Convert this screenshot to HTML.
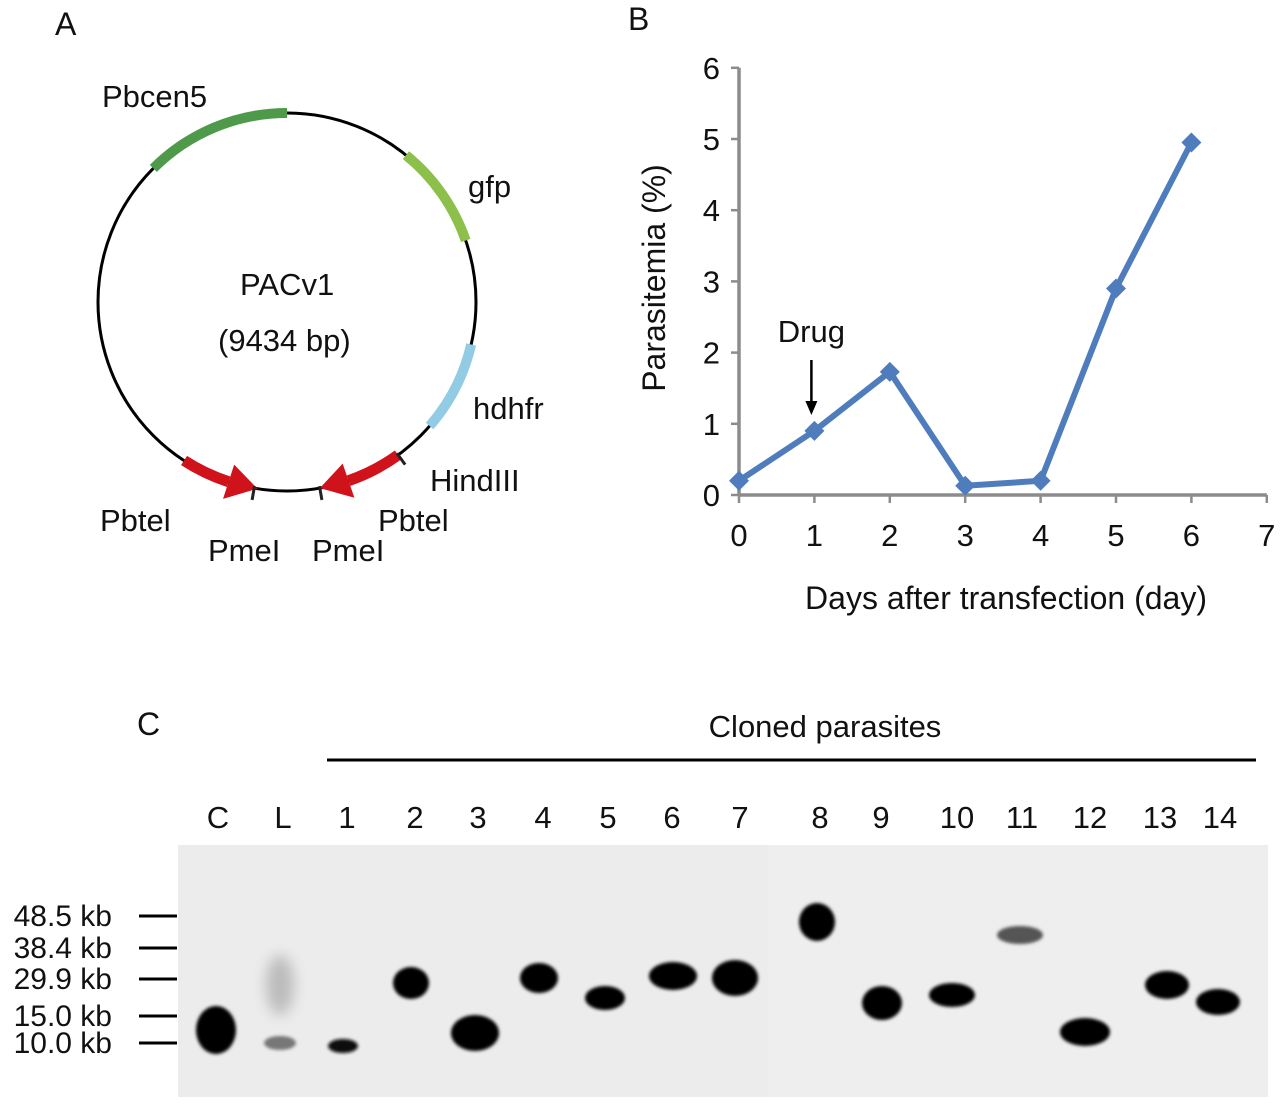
<!DOCTYPE html>
<html><head><meta charset="utf-8"><style>
body{margin:0;background:#fff;width:1280px;height:1100px;overflow:hidden;font-family:"Liberation Sans",Arial,sans-serif}
svg text{font-family:"Liberation Sans",Arial,sans-serif;fill:#111}
</style></head><body>
<svg id="fig" width="1280" height="1100" viewBox="0 0 1280 1100">
<defs>
<filter id="blur" x="-50%" y="-50%" width="200%" height="200%"><feGaussianBlur stdDeviation="1.6"/></filter>
<filter id="blur2" x="-50%" y="-50%" width="200%" height="200%"><feGaussianBlur stdDeviation="7"/></filter>
</defs>
<text x="55" y="35" font-size="32">A</text>
<text x="628" y="30" font-size="32">B</text>
<text x="137" y="735" font-size="32">C</text>
<g id="plasmid"></g>
<g id="chart"></g>
<g id="gel"></g>
</svg>
<script>
const NS='http://www.w3.org/2000/svg';
function mk(tag,attrs,parent,txt){const e=document.createElementNS(NS,tag);for(const k in attrs)e.setAttribute(k,attrs[k]);if(txt!==undefined)e.textContent=txt;parent.appendChild(e);return e;}

// ---------- Panel A plasmid ----------
const P=document.getElementById('plasmid');
const cx=287,cy=302,R=189;
function pt(a,r){const t=a*Math.PI/180;return [cx+(r||R)*Math.sin(t),cy-(r||R)*Math.cos(t)];}
function arc(a1,a2,r){const p1=pt(a1,r),p2=pt(a2,r);const large=Math.abs(a2-a1)>180?1:0;const sw=a2>a1?1:0;return `M${p1[0]},${p1[1]} A${r||R},${r||R} 0 ${large} ${sw} ${p2[0]},${p2[1]}`;}
let c=mk('circle',{cx:cx,cy:cy,r:R,fill:'none',stroke:'#000','stroke-width':3},P);

const segs=[['pbcen5-segment',-45,0,'#4f9a4a'],['gfp-segment',39,71,'#8cc04a'],['hdhfr-segment',103,131,'#92cbe4']];
segs.forEach(s=>{const e=mk('path',{d:arc(s[1],s[2]),fill:'none',stroke:s[3],'stroke-width':10},P);});
function arrow(a1,a2,name){const g=mk('g',{},P);
 const dir=a2>a1?1:-1;const ab=a2-dir*9;
 mk('path',{d:arc(a1,ab),fill:'none',stroke:'#d0121b','stroke-width':11},g);
 const t=pt(a2),b1=pt(ab,R-18),b2=pt(ab,R+18);
 mk('polygon',{points:`${t[0]},${t[1]} ${b1[0]},${b1[1]} ${b2[0]},${b2[1]}`,fill:'#d0121b'},g);}
arrow(144,170,'pbtel-arrow-right');arrow(213,189,'pbtel-arrow-left');
[[144,'hindiii-site'],[170,'pmei-site-right'],[190,'pmei-site-left']].forEach(s=>{const a=pt(s[0],R-2),b=pt(s[0],R+12);const e=mk('line',{x1:a[0],y1:a[1],x2:b[0],y2:b[1],stroke:'#222','stroke-width':3},P);});
const labsA=[['Pbcen5',102,107,'label-pbcen5'],['gfp',468,197,'label-gfp'],['PACv1',240,295,'label-pacv1'],['(9434 bp)',218,351,'label-size'],['hdhfr',473,419,'label-hdhfr'],['HindIII',430,491,'label-hindiii'],['Pbtel',100,531,'label-pbtel-left'],['Pbtel',378,531,'label-pbtel-right'],['PmeI',208,561,'label-pmei-left'],['PmeI',312,561,'label-pmei-right']];
labsA.forEach(l=>{const e=mk('text',{x:l[1],y:l[2],'font-size':31},P,l[0]);});

// ---------- Panel B chart ----------
const days=[0,1,2,3,4,5,6];
const parasitemia=[0.2,0.9,1.73,0.13,0.2,2.9,4.95];
const xTicks=[0,1,2,3,4,5,6,7];
const yTicks=[0,1,2,3,4,5,6];
const C=document.getElementById('chart');
const X=v=>739+v*75.4, Y=v=>495-v*71.2;
let e;
e=mk('line',{x1:X(0),y1:Y(0),x2:X(7),y2:Y(0),stroke:'#8c8c8c','stroke-width':3.5},C);
e=mk('line',{x1:X(0),y1:Y(0),x2:X(0),y2:Y(6),stroke:'#8c8c8c','stroke-width':3.5},C);
xTicks.forEach(t=>{mk('line',{x1:X(t),y1:Y(0),x2:X(t),y2:Y(0)+8,stroke:'#8c8c8c','stroke-width':2.5},C);
 e=mk('text',{x:X(t),y:546,'font-size':31,'text-anchor':'middle'},C,t);});
yTicks.forEach(t=>{mk('line',{x1:X(0)-8,y1:Y(t),x2:X(0),y2:Y(t),stroke:'#8c8c8c','stroke-width':2.5},C);
 e=mk('text',{x:720,y:Y(t)+11,'font-size':31,'text-anchor':'end'},C,t);});
e=mk('text',{x:1006,y:609,'font-size':32,'text-anchor':'middle'},C,'Days after transfection (day)');
e=mk('text',{x:0,y:0,'font-size':32,'text-anchor':'middle',transform:'translate(665,278) rotate(-90)'},C,'Parasitemia (%)');
e=mk('polyline',{points:days.map((d,i)=>X(d)+','+Y(parasitemia[i])).join(' '),fill:'none',stroke:'#4f7cbd','stroke-width':6,'stroke-linejoin':'round'},C);
days.forEach((d,i)=>{const x=X(d),y=Y(parasitemia[i]);e=mk('polygon',{points:`${x},${y-10} ${x+10},${y} ${x},${y+10} ${x-10},${y}`,fill:'#4f7cbd'},C);});
e=mk('text',{x:X(1)-3,y:342,'font-size':31,'text-anchor':'middle'},C,'Drug');
const ax=X(1)-3;
e=mk('g',{},C);
mk('line',{x1:ax,y1:360,x2:ax,y2:405,stroke:'#000','stroke-width':2.5},e);
mk('polygon',{points:`${ax-6},401 ${ax+6},401 ${ax},415`,fill:'#000'},e);

// ---------- Panel C gel ----------
const G=document.getElementById('gel');
e=mk('text',{x:825,y:737,'font-size':31,'text-anchor':'middle'},G,'Cloned parasites');
e=mk('line',{x1:327,y1:760,x2:1256,y2:760,stroke:'#000','stroke-width':3},G);
const lanes=['C','L','1','2','3','4','5','6','7','8','9','10','11','12','13','14'];
const laneX=[218,283,347,415,478,543,608,672,740,820,881,957,1022,1090,1160,1220];
lanes.forEach((l,i)=>{e=mk('text',{x:laneX[i],y:828,'font-size':31,'text-anchor':'middle'},G,l);});
e=mk('rect',{x:178,y:845,width:1090,height:252,fill:'#ececec'},G);
mk('rect',{x:768,y:845,width:500,height:252,fill:'#eeeeee'},G);
const markers=['48.5 kb','38.4 kb','29.9 kb','15.0 kb','10.0 kb'];
const markerY=[916,948,979,1016,1043];
markers.forEach((m,i)=>{e=mk('line',{x1:139,y1:markerY[i],x2:177,y2:markerY[i],stroke:'#000','stroke-width':3},G);
 e=mk('text',{x:112,y:markerY[i]+10,'font-size':30,'text-anchor':'end'},G,m);});
const bandLane=['C','L','1','2','3','4','5','6','7','8','9','10','11','12','13','14'];
const bandX=[216,280,343,411,475,539,605,673,735,817,882,952,1020,1085,1167,1218];
const bandY=[1030,1043,1046,983,1033,978,998,976,978,922,1003,995,935,1032,985,1002];
const bandW=[40,32,30,36,48,38,40,48,46,36,40,46,46,50,44,44];
const bandH=[48,14,14,32,36,30,24,28,36,38,34,24,18,28,28,26];
const bandColor=['#000','#777','#111','#000','#000','#000','#000','#000','#000','#000','#000','#000','#555','#000','#000','#000'];
e=mk('ellipse',{cx:280,cy:985,rx:14,ry:30,fill:'#bbb',filter:'url(#blur2)'},G);
bandLane.forEach((l,i)=>{e=mk('ellipse',{cx:bandX[i],cy:bandY[i],rx:bandW[i]/2,ry:bandH[i]/2,fill:bandColor[i],filter:'url(#blur)'},G);});
</script>
</body></html>
